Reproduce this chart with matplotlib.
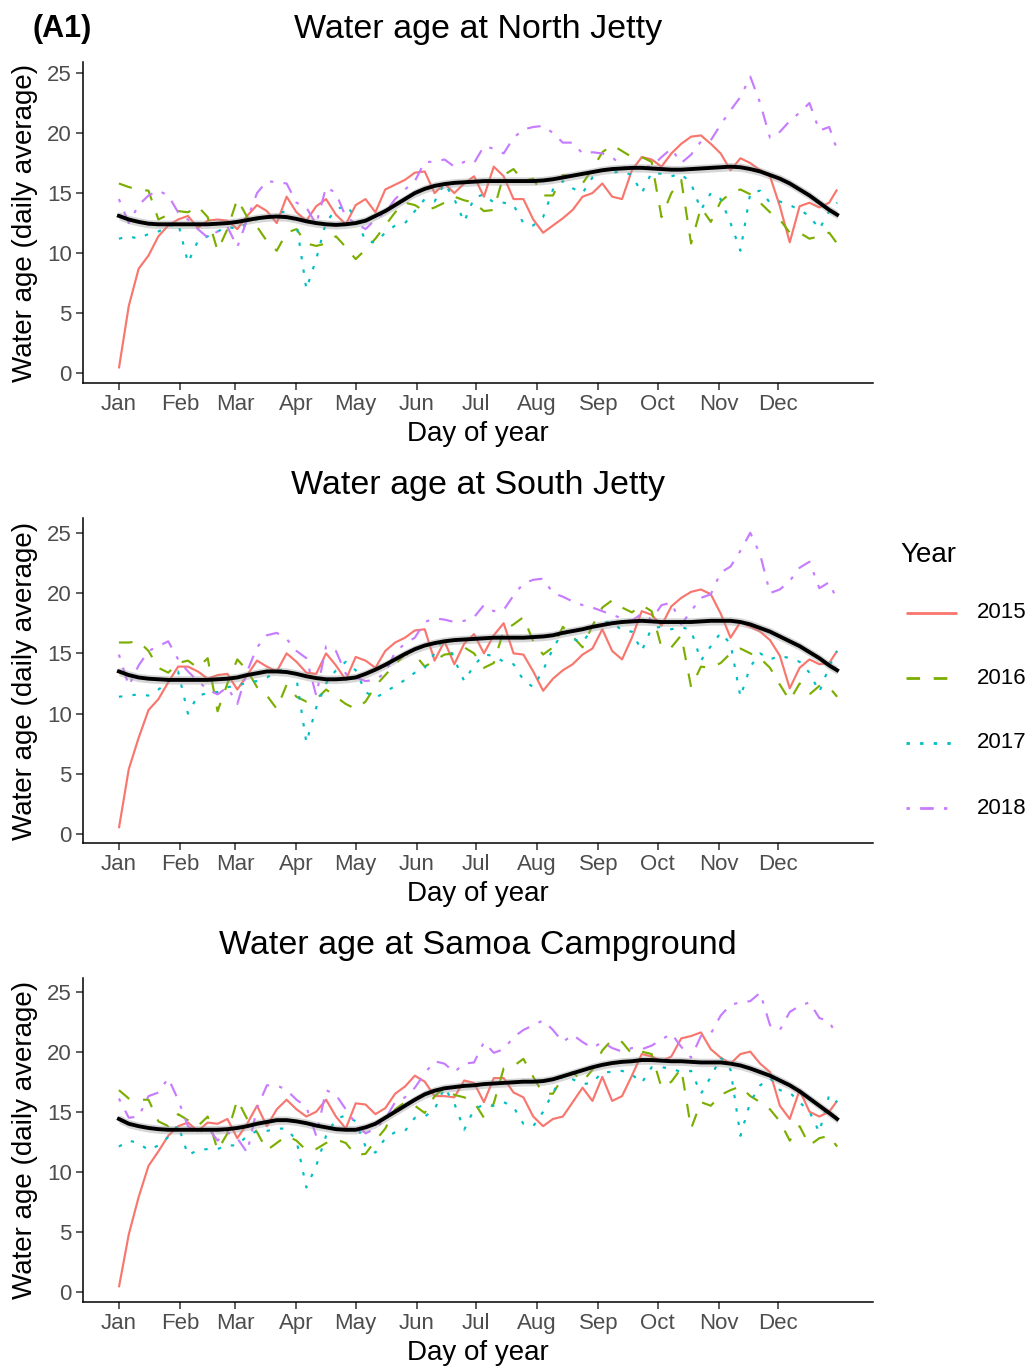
import matplotlib
matplotlib.use("Agg")
import matplotlib.pyplot as plt
from matplotlib.lines import Line2D

plt.rcParams['font.family'] = ['Liberation Sans', 'DejaVu Sans']
plt.rcParams['lines.scale_dashes'] = False

# ---------------------------------------------------------------- data
# daily-average water age (days), sampled every 5 days of the year
days = list(range(1, 362, 5)) + [365]

years = ['2015', '2016', '2017', '2018']
month_starts = [1, 32, 60, 91, 121, 152, 182, 213, 244, 274, 305, 335]
month_labels = ['Jan', 'Feb', 'Mar', 'Apr', 'May', 'Jun',
                'Jul', 'Aug', 'Sep', 'Oct', 'Nov', 'Dec']
y_ticks = [0, 5, 10, 15, 20, 25]

nj_2015 = [0.4, 5.6, 8.7, 9.8, 11.4, 12.3, 12.8, 13.1, 12.1, 12.7, 12.8, 12.7, 12.0, 13.1, 14.0, 13.5, 12.5, 14.7, 13.4, 12.7, 13.9, 14.5, 13.2, 12.4, 14.0,
           14.5, 13.4, 15.3, 15.7, 16.1, 16.7, 16.8, 15.0, 15.8, 15.0, 15.8, 16.4, 14.7, 17.2, 16.4, 14.5, 14.5, 12.8, 11.7, 12.3, 12.9, 13.6, 14.7, 15.0, 15.8, 14.7,
           14.5, 16.9, 18.0, 17.8, 17.2, 18.3, 19.1, 19.7, 19.8, 19.1, 18.3, 16.9, 17.9, 17.5, 16.9, 16.4, 13.9, 10.9, 13.9, 14.2, 13.8, 14.2, 15.3]
nj_2016 = [15.8, 15.5, 15.3, 15.2, 12.8, 13.2, 13.5, 13.4, 13.9, 13.0, 10.2, 12.0, 14.5, 13.0, 12.2, 11.0, 10.2, 11.7, 12.0, 10.8, 10.6, 10.8, 11.4, 10.5, 9.5,
           10.3, 11.2, 12.3, 13.4, 14.2, 14.0, 13.5, 13.8, 14.2, 14.7, 14.4, 14.2, 13.5, 13.6, 16.5, 17.0, 16.0, 16.2, 14.8, 14.8, 16.5, 16.4, 15.8, 17.0, 18.4, 19.0,
           18.5, 18.0, 18.0, 17.6, 13.0, 15.0, 16.1, 10.8, 13.8, 12.6, 14.3, 15.0, 15.3, 14.9, 14.2, 13.4, 12.8, 11.7, 11.7, 11.2, 11.4, 11.7, 10.8]
nj_2017 = [11.2, 11.4, 11.2, 11.6, 11.8, 12.2, 12.5, 9.2, 11.0, 11.4, 11.8, 12.2, 12.0, 12.5, 12.8, 13.0, 13.3, 13.5, 12.5, 7.0, 9.5, 12.6, 13.6, 14.0, 13.0,
           11.0, 10.9, 11.7, 12.3, 12.5, 13.5, 14.5, 14.3, 15.8, 14.5, 12.6, 14.6, 14.9, 14.2, 14.2, 14.0, 12.5, 12.3, 13.0, 15.3, 16.0, 15.4, 15.0, 16.3, 16.9, 16.7,
           16.8, 16.5, 15.0, 16.7, 16.6, 16.4, 16.6, 15.8, 13.6, 15.0, 14.5, 12.5, 10.2, 15.0, 15.2, 14.2, 14.3, 14.0, 13.6, 13.1, 12.0, 13.5, 14.2]
nj_2018 = [14.5, 12.5, 14.0, 14.8, 15.2, 14.8, 13.4, 12.8, 12.0, 11.3, 11.8, 12.2, 10.5, 12.8, 15.0, 16.0, 15.9, 15.8, 14.2, 13.8, 12.4, 15.5, 15.0, 13.0, 12.5,
           12.0, 12.8, 13.4, 14.5, 15.3, 16.0, 17.6, 17.6, 17.8, 17.2, 17.6, 17.5, 18.9, 18.7, 18.3, 19.6, 20.3, 20.5, 20.6, 20.0, 19.2, 19.2, 18.3, 18.4, 18.3, 18.0,
           17.2, 17.0, 17.2, 17.2, 18.0, 18.7, 17.5, 18.2, 19.3, 19.4, 20.7, 21.9, 23.0, 24.7, 22.5, 19.6, 20.1, 21.0, 21.7, 22.5, 20.2, 20.5, 18.6]
nj_smooth = [13.1, 12.8, 12.6, 12.45, 12.4, 12.4, 12.4, 12.4, 12.4, 12.4, 12.45, 12.5, 12.6, 12.75, 12.9, 13.0, 13.05, 13.0, 12.85, 12.65, 12.5, 12.4, 12.35, 12.4, 12.5,
             12.7, 13.1, 13.5, 14.0, 14.5, 15.0, 15.35, 15.6, 15.75, 15.85, 15.9, 15.95, 16.0, 16.0, 16.0, 16.0, 16.0, 16.0, 16.05, 16.15, 16.3, 16.45, 16.6, 16.75, 16.9, 17.0,
             17.05, 17.1, 17.1, 17.05, 17.0, 16.95, 16.95, 17.0, 17.05, 17.1, 17.15, 17.2, 17.15, 17.0, 16.8, 16.5, 16.2, 15.8, 15.3, 14.8, 14.2, 13.6, 13.2]

sj_2015 = [0.5, 5.4, 8.0, 10.3, 11.2, 12.6, 13.9, 13.9, 13.5, 12.9, 13.2, 13.3, 12.0, 13.2, 14.4, 13.9, 13.5, 15.0, 14.3, 13.4, 13.3, 15.0, 14.0, 12.8, 14.7,
           14.4, 13.8, 15.2, 15.9, 16.3, 16.9, 17.0, 14.4, 16.0, 14.1, 15.8, 16.6, 15.0, 16.5, 17.5, 15.0, 14.9, 13.5, 11.9, 12.9, 13.6, 14.1, 14.9, 15.4, 17.0, 15.2,
           14.5, 16.3, 18.5, 18.2, 17.3, 18.9, 19.6, 20.1, 20.3, 19.9, 18.3, 16.3, 17.6, 17.2, 16.8, 16.1, 14.8, 12.1, 13.8, 14.5, 14.1, 14.2, 15.2]
sj_2016 = [15.9, 15.9, 16.0, 15.2, 13.8, 13.4, 14.2, 14.4, 13.8, 14.6, 10.2, 12.5, 14.5, 13.6, 12.2, 11.5, 10.4, 12.4, 11.4, 11.0, 11.2, 12.0, 11.4, 10.8, 10.4,
           11.0, 12.3, 13.2, 14.1, 14.9, 14.9, 13.9, 14.4, 14.9, 15.0, 15.5, 15.0, 13.8, 14.2, 16.9, 17.4, 18.0, 16.0, 14.9, 15.5, 17.2, 16.4, 15.5, 17.3, 18.8, 19.4,
           18.8, 18.4, 19.0, 18.5, 15.5, 15.5, 16.5, 12.2, 13.9, 13.8, 14.2, 15.0, 15.4, 15.0, 14.6, 13.8, 12.4, 11.1, 12.5, 11.6, 12.3, 12.2, 11.4]
sj_2017 = [11.4, 11.5, 11.6, 11.5, 12.0, 12.6, 13.5, 10.0, 11.5, 11.7, 11.8, 12.2, 12.3, 12.6, 12.7, 13.0, 13.5, 13.8, 12.9, 7.6, 10.5, 12.5, 13.6, 14.3, 13.6,
           11.8, 11.3, 11.8, 12.3, 12.8, 13.4, 13.8, 15.0, 16.4, 14.5, 12.7, 14.0, 14.9, 14.8, 14.3, 14.1, 12.8, 12.2, 13.6, 15.4, 16.8, 16.2, 15.9, 17.1, 17.6, 17.6,
           16.9, 16.8, 15.2, 17.1, 17.2, 17.0, 17.2, 16.9, 14.4, 15.6, 16.7, 15.8, 11.4, 13.9, 15.0, 14.5, 14.8, 14.6, 14.3, 13.4, 11.8, 13.9, 15.2]
sj_2018 = [14.9, 12.3, 14.0, 15.2, 15.6, 16.0, 14.5, 13.5, 12.7, 12.0, 11.6, 12.2, 10.8, 13.5, 15.5, 16.5, 16.7, 16.2, 15.2, 14.6, 11.5, 15.6, 15.2, 13.3, 13.0,
           12.7, 12.8, 13.4, 15.1, 15.8, 16.3, 17.6, 17.9, 17.8, 17.6, 17.7, 18.0, 19.0, 18.5, 18.6, 19.8, 20.8, 21.1, 21.2, 20.0, 19.7, 19.3, 19.0, 18.8, 18.5, 18.2,
           17.9, 17.7, 18.3, 17.8, 19.0, 19.2, 17.4, 18.5, 19.6, 19.9, 21.7, 22.2, 23.5, 25.0, 23.2, 20.0, 20.3, 21.0, 22.1, 22.6, 20.4, 20.9, 19.4]
sj_smooth = [13.5, 13.2, 13.0, 12.9, 12.85, 12.8, 12.8, 12.8, 12.8, 12.8, 12.85, 12.9, 13.0, 13.2, 13.35, 13.5, 13.5, 13.45, 13.3, 13.1, 12.95, 12.85, 12.85, 12.9, 13.0,
             13.3, 13.65, 14.05, 14.5, 14.95, 15.35, 15.65, 15.85, 16.0, 16.1, 16.15, 16.2, 16.25, 16.3, 16.3, 16.3, 16.3, 16.35, 16.4, 16.5, 16.7, 16.85, 17.0, 17.2, 17.35, 17.5,
             17.6, 17.65, 17.7, 17.65, 17.6, 17.6, 17.6, 17.6, 17.65, 17.7, 17.7, 17.7, 17.6, 17.4, 17.1, 16.8, 16.4, 16.0, 15.6, 15.1, 14.6, 14.0, 13.6]

sc_2015 = [0.4, 4.8, 7.9, 10.5, 11.7, 13.0, 13.8, 14.1, 13.4, 14.1, 14.0, 14.4, 12.8, 14.0, 15.5, 13.8, 15.2, 16.0, 15.2, 14.6, 15.0, 16.0, 14.6, 13.6, 15.7,
           15.6, 14.8, 15.3, 16.5, 17.1, 18.0, 17.5, 16.3, 16.3, 16.2, 17.6, 17.4, 15.8, 17.8, 17.8, 16.6, 16.2, 14.6, 13.8, 14.4, 14.6, 15.8, 17.0, 15.9, 17.9, 15.9,
           16.3, 18.0, 19.8, 19.6, 19.2, 19.6, 21.1, 21.3, 21.6, 20.2, 19.5, 19.0, 19.8, 20.0, 19.0, 18.3, 15.5, 14.4, 16.8, 15.0, 14.6, 15.0, 15.9]
sc_2016 = [16.8, 16.1, 16.0, 16.0, 14.2, 13.8, 14.8, 14.3, 13.8, 14.6, 11.8, 13.2, 16.0, 14.4, 13.3, 11.8, 12.4, 13.0, 12.6, 11.8, 11.9, 12.4, 12.7, 12.4, 11.4,
           11.5, 12.6, 13.6, 15.2, 15.8, 15.5, 14.9, 16.3, 17.0, 16.4, 16.2, 15.8, 14.5, 15.7, 18.6, 18.8, 19.4, 17.9, 16.5, 16.5, 17.9, 18.3, 17.5, 18.5, 20.1, 21.0,
           20.8, 19.8, 20.0, 19.8, 17.0, 17.5, 18.6, 13.6, 15.8, 15.5, 16.4, 16.8, 17.1, 16.3, 15.8, 15.2, 14.2, 12.6, 13.8, 12.2, 12.8, 13.0, 12.1]
sc_2017 = [12.1, 12.6, 12.4, 11.8, 12.2, 12.9, 13.9, 11.4, 11.8, 11.9, 11.9, 12.2, 12.2, 13.0, 13.4, 13.4, 13.6, 13.6, 12.6, 8.7, 10.5, 13.0, 14.4, 14.7, 14.2,
           12.1, 11.6, 12.8, 13.3, 13.4, 14.5, 14.6, 15.2, 17.0, 15.7, 13.5, 15.2, 15.6, 15.5, 15.8, 15.4, 14.0, 13.8, 15.0, 16.6, 18.0, 17.7, 17.3, 17.4, 18.3, 18.3,
           18.4, 18.1, 17.4, 18.7, 18.7, 18.6, 18.3, 18.4, 16.5, 17.9, 19.5, 18.5, 13.0, 15.8, 17.2, 17.8, 16.8, 16.6, 15.8, 15.0, 13.3, 16.4, 15.8]
sc_2018 = [16.1, 14.5, 14.6, 16.3, 16.6, 17.8, 16.0, 13.8, 13.2, 13.7, 12.6, 13.3, 12.8, 11.6, 15.3, 17.2, 17.2, 16.8, 16.0, 15.4, 13.0, 16.8, 16.4, 15.2, 14.0,
           13.2, 13.6, 14.4, 15.8, 16.2, 17.0, 18.2, 19.2, 19.0, 18.3, 19.0, 19.1, 20.8, 19.9, 20.2, 21.2, 21.8, 22.2, 22.6, 21.8, 20.8, 21.4, 20.8, 20.3, 20.8, 20.3,
           20.0, 20.3, 20.2, 20.5, 21.0, 21.5, 20.4, 19.5, 21.3, 21.5, 23.0, 23.9, 24.1, 24.2, 24.9, 22.2, 21.8, 23.3, 23.8, 24.1, 22.8, 22.5, 21.3]
sc_smooth = [14.4, 14.0, 13.8, 13.65, 13.55, 13.5, 13.5, 13.5, 13.5, 13.5, 13.5, 13.55, 13.65, 13.8, 14.0, 14.15, 14.3, 14.3, 14.2, 14.05, 13.85, 13.7, 13.55, 13.5, 13.5,
             13.7, 14.0, 14.5, 15.0, 15.5, 16.0, 16.45, 16.75, 16.95, 17.05, 17.15, 17.2, 17.3, 17.35, 17.4, 17.45, 17.5, 17.5, 17.55, 17.7, 17.95, 18.2, 18.45, 18.7, 18.9, 19.05,
             19.15, 19.2, 19.3, 19.3, 19.25, 19.2, 19.2, 19.15, 19.1, 19.1, 19.1, 19.0, 18.85, 18.6, 18.3, 18.0, 17.6, 17.2, 16.7, 16.1, 15.5, 14.9, 14.4]

smooth_se = 0.35  # half-width of the confidence ribbon

panels = [
    ('Water age at North Jetty', [nj_2015, nj_2016, nj_2017, nj_2018], nj_smooth),
    ('Water age at South Jetty', [sj_2015, sj_2016, sj_2017, sj_2018], sj_smooth),
    ('Water age at Samoa Campground', [sc_2015, sc_2016, sc_2017, sc_2018], sc_smooth),
]

# ---------------------------------------------------------------- style
colors = ['#F8766D', '#7CAE00', '#00BFC4', '#C77CFF']
u = 2.45
linestyles = ['-', (0, (4 * u, 4 * u)), (0, (u, 3 * u)), (0, (u, 3 * u, 4 * u, 3 * u))]
line_w = 1.55

W, H = 1033, 1370
fig = plt.figure(figsize=(W / 100, H / 100), dpi=100)

ax_left, ax_right = 83, 873
panel_px = [(62, 383), (518, 843), (978, 1302)]

for (title, series, smooth), (top, bottom) in zip(panels, panel_px):
    ax = fig.add_axes([ax_left / W, 1 - bottom / H, (ax_right - ax_left) / W, (bottom - top) / H])
    for vals, col, ls in zip(series, colors, linestyles):
        ax.plot(days, vals, color=col, lw=line_w, linestyle=ls,
                solid_capstyle='butt', dash_capstyle='butt')
    lo_band = [s - smooth_se for s in smooth]
    hi_band = [s + smooth_se for s in smooth]
    ax.fill_between(days, lo_band, hi_band, color='#999999', alpha=0.4, lw=0, zorder=3)
    ax.plot(days, smooth, color='black', lw=2.8, zorder=4)

    # ggplot-style 5 % expansion of both scales
    allv = [v for s in series for v in s] + lo_band + hi_band
    ymin, ymax = min(allv), max(allv)
    ax.set_ylim(ymin - 0.05 * (ymax - ymin), ymax + 0.05 * (ymax - ymin))
    xmin, xmax = min(days), max(days)
    ax.set_xlim(xmin - 0.05 * (xmax - xmin), xmax + 0.05 * (xmax - xmin))

    ax.set_xticks(month_starts)
    ax.set_xticklabels(month_labels)
    ax.set_yticks(y_ticks)
    ax.tick_params(direction='out', length=5, width=1.1, color='#333333',
                   labelsize=16, labelcolor='#4D4D4D', pad=3)
    for side in ('top', 'right'):
        ax.spines[side].set_visible(False)
    for side in ('left', 'bottom'):
        ax.spines[side].set_linewidth(1.1)
        ax.spines[side].set_color('black')

    xc = (ax_left + ax_right) / 2 / W
    fig.text(xc, 1 - (top - 24) / H, title, ha='center', va='baseline', fontsize=24.5)
    fig.text(xc, 1 - (bottom + 51) / H, 'Day of year', ha='center', va='center', fontsize=20)
    fig.text(25 / W, 1 - (top + bottom) / 2 / H, 'Water age (daily average)',
             ha='center', va='center', rotation=90, fontsize=20)

fig.text(33 / W, 1 - 37 / H, '(A1)', ha='left', va='baseline', fontsize=22, fontweight='bold')

# legend
fig.text(900 / W, 1 - 555 / H, 'Year', ha='left', va='center', fontsize=20)
for i, (yr, col, ls) in enumerate(zip(years, colors, linestyles)):
    yy = 1 - (613 + 65 * i) / H
    fig.add_artist(Line2D([906 / W, 957 / W], [yy, yy], transform=fig.transFigure,
                          color=col, lw=2.0, linestyle=ls,
                          solid_capstyle='butt', dash_capstyle='butt'))
    fig.text(977 / W, yy, yr, ha='left', va='center', fontsize=16)

fig.savefig('out.png', dpi=100)
